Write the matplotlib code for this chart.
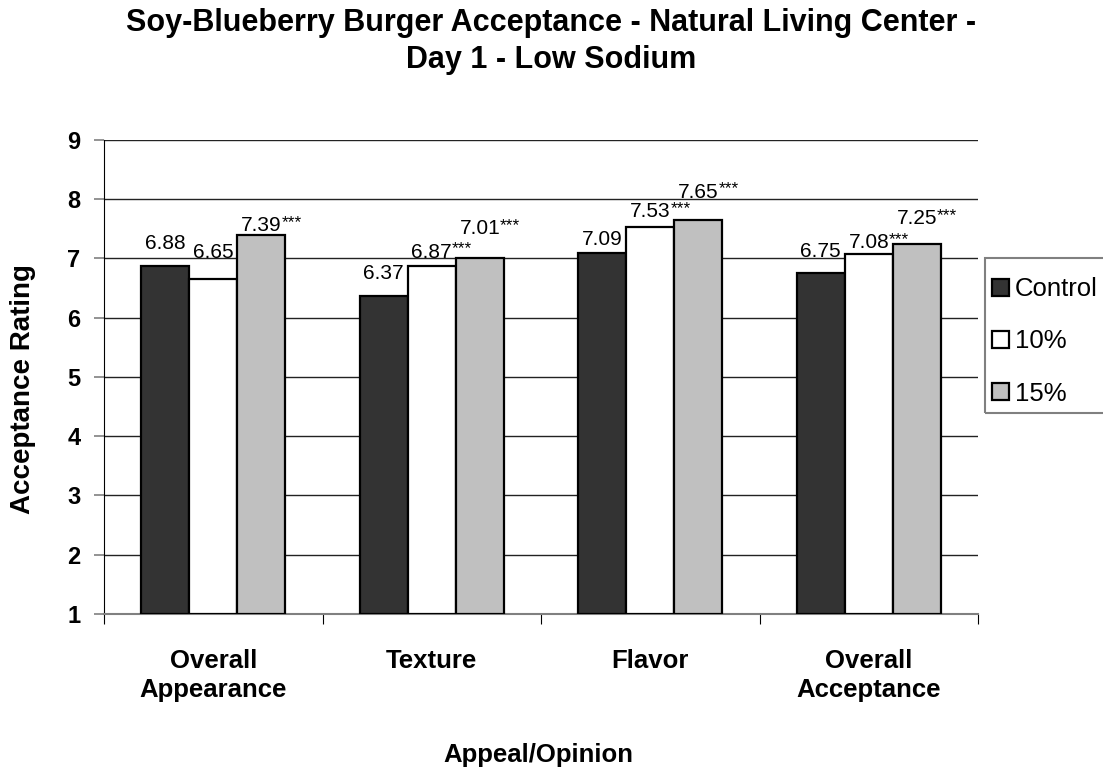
import numpy as np
import matplotlib.pyplot as plt
from matplotlib.patches import Patch, Rectangle

plt.rcParams['font.family'] = ['Liberation Sans', 'DejaVu Sans']

# DATA
categories = ["Overall\nAppearance", "Texture", "Flavor", "Overall\nAcceptance"]
series = ["Control", "10%", "15%"]
control = [6.88, 6.37, 7.09, 6.75]
pct10 = [6.65, 6.87, 7.53, 7.08]
pct15 = [7.39, 7.01, 7.65, 7.25]
stars10 = ["", "***", "***", "***"]
stars15 = ["***", "***", "***", "***"]

values = [control, pct10, pct15]
stars = [["", "", "", ""], stars10, stars15]
colors = ["#333333", "#ffffff", "#c0c0c0"]

# label gaps above bar tops (points), Excel staggered them
gaps = [[12, 12, 6, 12],
        [15, 6, 7, 4],
        [3, 17, 16, 14]]

fig = plt.figure(figsize=(11.03, 7.69), dpi=100)
ax = fig.add_axes([0.0943, 0.2016, 0.7924, 0.6164])

x = np.arange(len(categories))
w = 0.22
for i, vals in enumerate(values):
    pos = x + (i - 1) * w
    ax.bar(pos, [v - 1 for v in vals], bottom=1, width=w,
           color=colors[i], edgecolor="black", linewidth=1.6, zorder=3)
    for j, v in enumerate(vals):
        t = ax.annotate(f"{v:.2f}", xy=(pos[j], v), xytext=(0, gaps[i][j]),
                        textcoords="offset points", ha="center", va="baseline",
                        fontsize=15, zorder=5)
        if stars[i][j]:
            ax.annotate(stars[i][j], xy=(1, 1), xycoords=t,
                        xytext=(0, 1), textcoords="offset points",
                        ha="left", va="top", fontsize=12.5, zorder=5)

ax.set_xlim(-0.5, 3.5)
ax.set_ylim(1, 9)
ax.set_yticks(range(1, 10))
ax.set_yticklabels([str(k) for k in range(1, 10)], fontsize=17, fontweight="bold")
ax.tick_params(axis="y", length=7, color="#808080", width=1.2, pad=10)

ax.set_xticks(np.arange(-0.5, 4, 1))
ax.set_xticklabels([])
ax.tick_params(axis="x", which="major", length=7, color="black", direction="out")
ax.set_xticks(x, minor=True)
ax.set_xticklabels(categories, minor=True, fontsize=18.5, fontweight="bold", linespacing=1.3)
ax.tick_params(axis="x", which="minor", length=0, pad=25)

for k in range(2, 10):
    ax.axhline(k, color="#222222", linewidth=1, zorder=1)

ax.spines["top"].set_visible(False)
ax.spines["right"].set_visible(False)
ax.spines["left"].set_color("black")
ax.spines["bottom"].set_color("#808080")
ax.spines["bottom"].set_linewidth(1.5)

fig.text(0.021, 0.494, "Acceptance Rating", rotation=90, ha="center", va="center",
         fontsize=20, fontweight="bold")
fig.text(0.4885, 0.009, "Appeal/Opinion", ha="center", va="baseline",
         fontsize=18.5, fontweight="bold")
fig.suptitle("Soy-Blueberry Burger Acceptance - Natural Living Center -\nDay 1 - Low Sodium",
             x=0.5, y=0.99, va="top", fontsize=22, fontweight="bold", linespacing=1.3)

# legend, frame drawn separately (runs off the right edge like the original)
handles = [Patch(facecolor=c, edgecolor="black", linewidth=1.6) for c in colors]
fig.legend(handles, series, loc="upper left", bbox_to_anchor=(0.899, 0.6395),
           fontsize=18.5, frameon=False, handlelength=0.66,
           handleheight=0.66, handletextpad=0.25, labelspacing=1.1,
           borderpad=0, borderaxespad=0)
fig.add_artist(Rectangle((985 / 1103, 1 - 413 / 769), 0.2, 155 / 769,
                         transform=fig.transFigure, fill=False,
                         edgecolor="#808080", linewidth=1.5))

fig.savefig("out.png", dpi=100)
